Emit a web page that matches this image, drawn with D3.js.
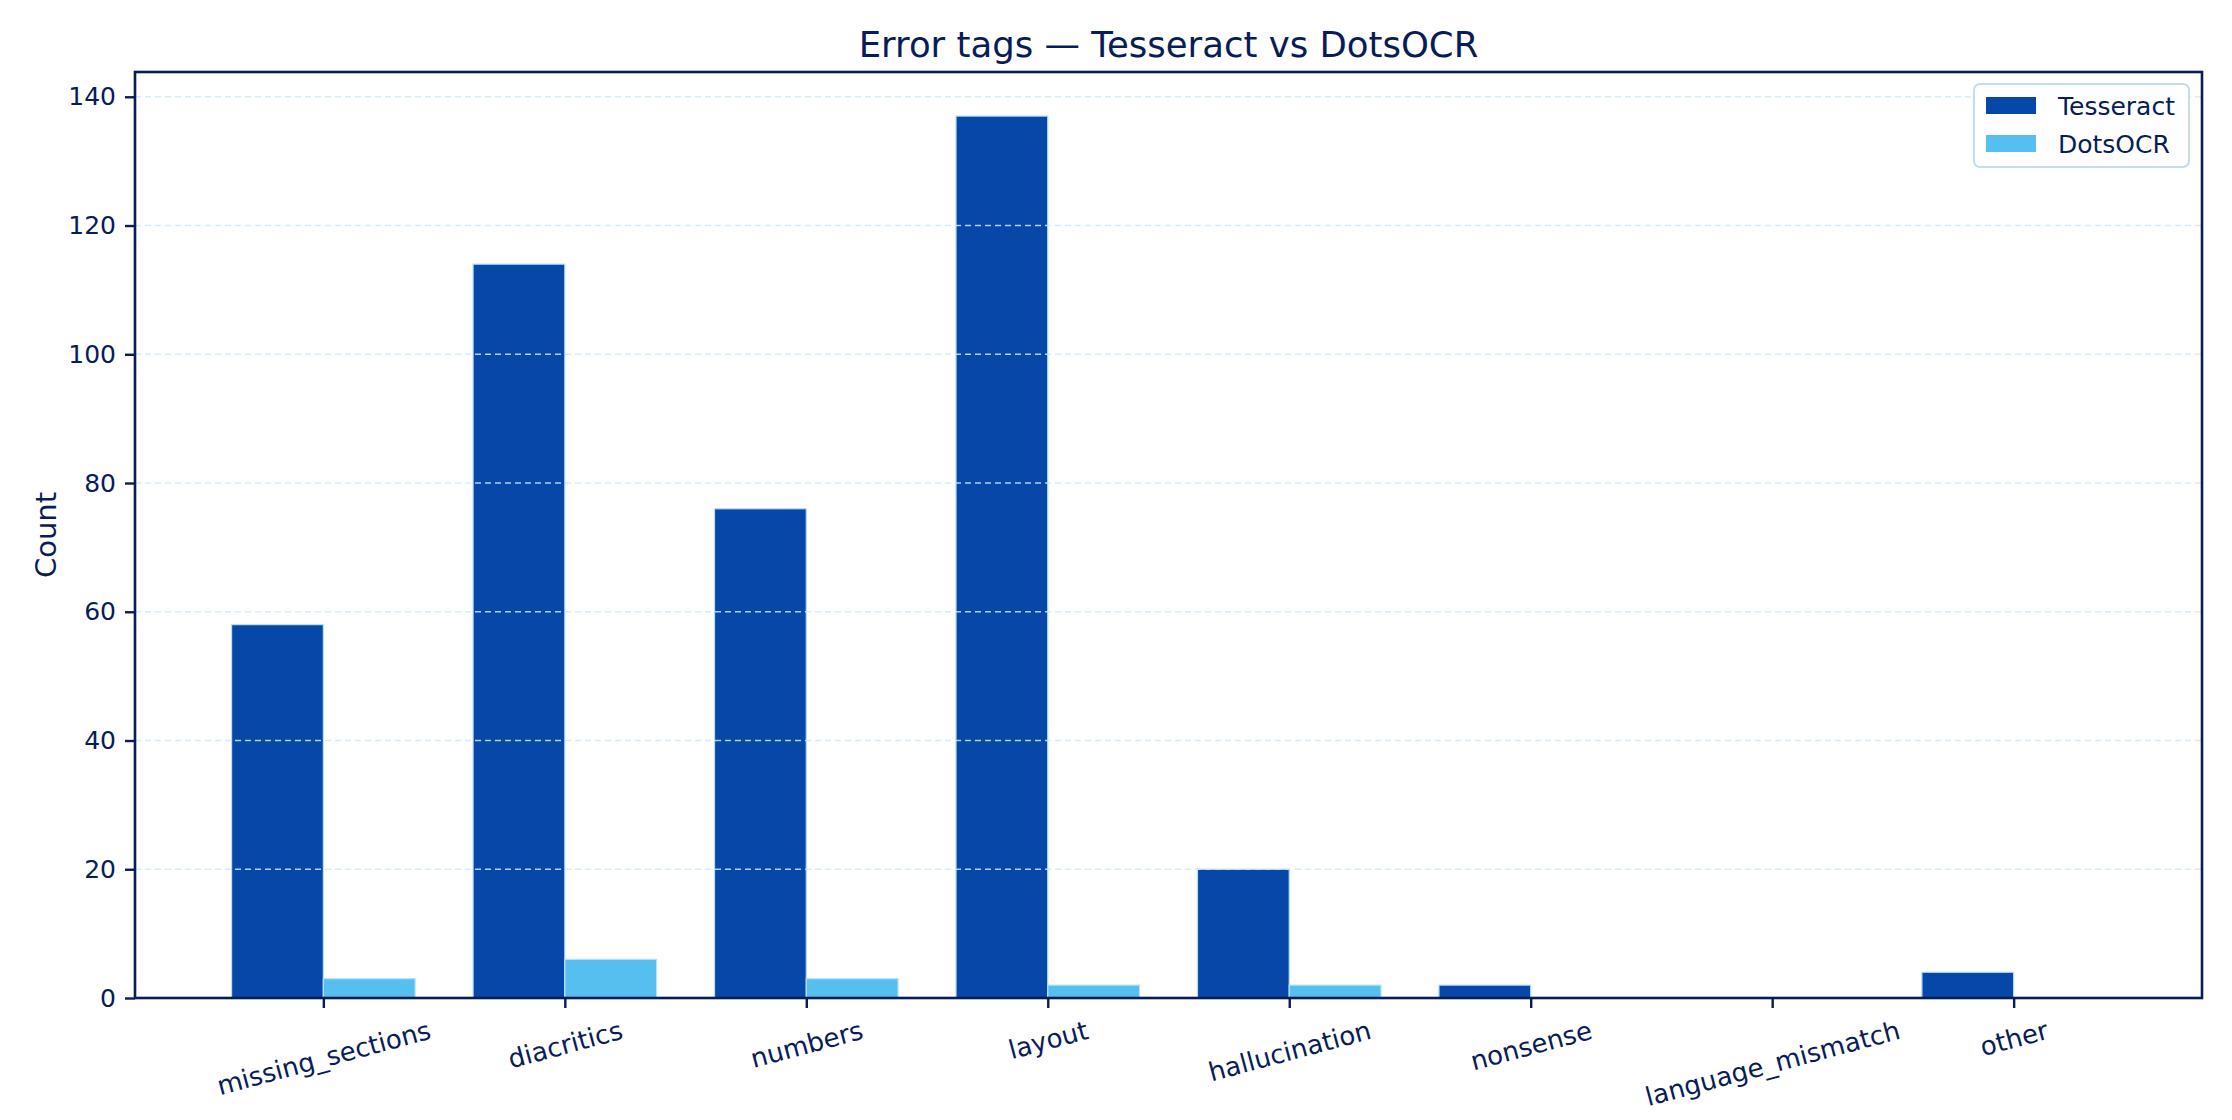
<!DOCTYPE html>
<html>
<head>
<meta charset="utf-8">
<script src="https://cdn.jsdelivr.net/npm/d3@7"></script>
<style>
    body { margin: 0; background: #ffffff; }
    text { font-family: "DejaVu Sans", sans-serif; }
</style>
</head>
<body>
<div id="main"></div>
<script>
const categories = ["missing_sections", "diacritics", "numbers", "layout", "hallucination", "nonsense", "language_mismatch", "other"];
const tesseract = [58, 114, 76, 137, 20, 2, 0, 4];
const dotsocr = [3, 6, 3, 2, 2, 0, 0, 0];
const seriesNames = ["Tesseract", "DotsOCR"];
const yTicks = [0, 20, 40, 60, 80, 100, 120, 140];

onload = () => {
    const W = 2232, H = 1120;
    const margin = { left: 135, right: W - 2202, top: 72, bottom: H - 998 };
    const ink = "#081c57";
    const colors = ["#0647a8", "#56bff0"];
    const barW = 0.38;
    const pad = 0.4; // empty room left/right of the outer bars

    let svg = d3.select("#main").append("svg")
        .attr("width", W).attr("height", H);
    svg.append("rect").attr("width", W).attr("height", H).attr("fill", "#fff");

    let n = categories.length;
    let xScale = d3.scaleLinear()
        .domain([-barW - pad, n - 1 + barW + pad])
        .range([margin.left, W - margin.right]);

    let ymax = d3.max(tesseract.concat(dotsocr)) * 1.05;
    let yScale = d3.scaleLinear()
        .domain([0, ymax])
        .range([H - margin.bottom, margin.top]);

    // bars
    let series = [tesseract, dotsocr];
    series.forEach((vals, s) => {
        svg.append("g").selectAll("rect")
            .data(vals)
            .enter().append("rect")
            .attr("x", (d, i) => xScale(i + (s === 0 ? -barW : 0)))
            .attr("width", xScale(barW) - xScale(0))
            .attr("y", (d) => yScale(d))
            .attr("height", (d) => yScale(0) - yScale(d))
            .attr("fill", colors[s])
            .attr("stroke", "#b5e0fa")
            .attr("stroke-width", 1.2);
    });

    // grid on top of bars
    svg.append("g").selectAll("line")
        .data(yTicks)
        .enter().append("line")
        .attr("x1", margin.left).attr("x2", W - margin.right)
        .attr("y1", (d) => yScale(d)).attr("y2", (d) => yScale(d))
        .attr("stroke", "#cfeaf6")
        .attr("stroke-width", 1.6)
        .attr("stroke-dasharray", "6,4")
        .attr("opacity", 0.85);

    // y axis
    let yAxis = d3.axisLeft(yScale).tickValues(yTicks).tickSize(10).tickPadding(9);
    let gy = svg.append("g")
        .attr("transform", `translate(${margin.left},0)`)
        .call(yAxis);
    gy.select(".domain").remove();
    gy.selectAll(".tick line").attr("stroke", ink).attr("stroke-width", 2.4);
    gy.selectAll(".tick text").attr("fill", ink).style("font-size", "25px")
        .style("font-family", "DejaVu Sans");

    // x axis
    let xAxis = d3.axisBottom(xScale)
        .tickValues(d3.range(n))
        .tickFormat((i) => categories[i])
        .tickSize(10);
    let gx = svg.append("g")
        .attr("transform", `translate(0,${H - margin.bottom})`)
        .call(xAxis);
    gx.select(".domain").remove();
    gx.selectAll(".tick line").attr("stroke", ink).attr("stroke-width", 2.4);
    gx.selectAll(".tick text")
        .attr("fill", ink)
        .style("font-size", "26px")
        .style("font-family", "DejaVu Sans")
        .attr("dy", null)
        .attr("y", null)
        .attr("dominant-baseline", "central")
        .each(function() {
            // rotated 15deg, top of the rotated box sits just below the tick
            let w = this.getComputedTextLength();
            let h = 26;
            let a = 15 * Math.PI / 180;
            let bh = w * Math.sin(a) + h * Math.cos(a);
            d3.select(this).attr("transform", `translate(0, ${19 + bh / 2}) rotate(-15)`);
        });

    // spines
    svg.append("rect")
        .attr("x", margin.left).attr("y", margin.top)
        .attr("width", W - margin.left - margin.right)
        .attr("height", H - margin.top - margin.bottom)
        .attr("fill", "none")
        .attr("stroke", ink)
        .attr("stroke-width", 2.6);

    // title + y label
    svg.append("text")
        .attr("x", (margin.left + W - margin.right) / 2)
        .attr("y", 57)
        .attr("text-anchor", "middle")
        .attr("fill", ink)
        .style("font-size", "35.5px")
        .text("Error tags \u2014 Tesseract vs DotsOCR");

    svg.append("text")
        .attr("transform", `translate(46, ${(margin.top + H - margin.bottom) / 2}) rotate(-90)`)
        .attr("text-anchor", "middle")
        .attr("dominant-baseline", "central")
        .attr("fill", ink)
        .style("font-size", "29px")
        .text("Count");

    // legend
    let lg = svg.append("g").attr("transform", "translate(1974, 84)");
    lg.append("rect")
        .attr("width", 215).attr("height", 83)
        .attr("rx", 6)
        .attr("fill", "#fff")
        .attr("stroke", "#c3dcef")
        .attr("stroke-width", 2);
    seriesNames.forEach((name, i) => {
        lg.append("rect")
            .attr("x", 12).attr("y", 13 + i * 38)
            .attr("width", 50).attr("height", 17)
            .attr("fill", colors[i]);
        lg.append("text")
            .attr("x", 84).attr("y", 22 + i * 38)
            .attr("dominant-baseline", "central")
            .attr("fill", ink)
            .style("font-size", "25px")
            .text(name);
    });
};
</script>
</body>
</html>
